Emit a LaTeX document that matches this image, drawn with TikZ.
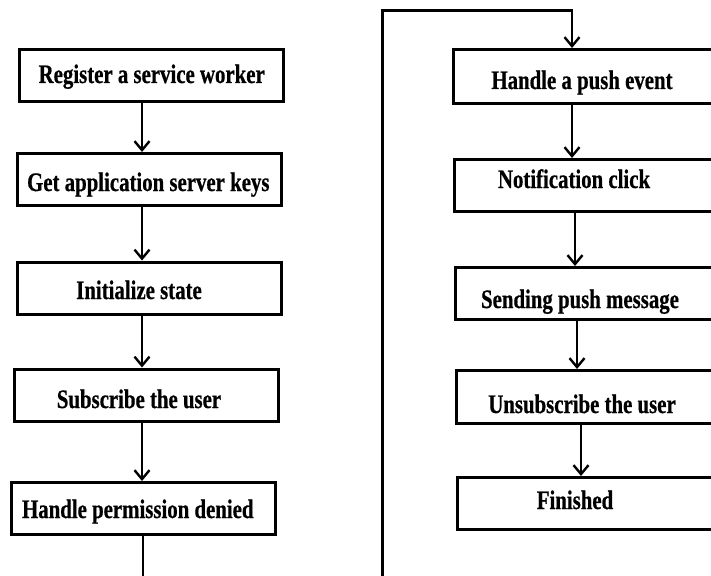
\documentclass[tikz,border=0pt]{standalone}
\usepackage{fontspec}
\setmainfont{Liberation Serif}[FakeStretch=0.78, BoldFeatures={FakeBold=0.6}]
\usetikzlibrary{arrows.meta}
\begin{document}
\begin{tikzpicture}[x=1pt,y=-1pt,
  box/.style={draw, line width=3pt, rectangle, inner sep=0pt, minimum height=52pt},
  lbox/.style={box, minimum width=264pt},
  rbox/.style={box, minimum width=290pt, anchor=west},
  lbl/.style={font=\fontsize{26.7}{30}\selectfont\bfseries, anchor=base, inner sep=0pt},
  tip/.style={-{Straight Barb[length=9pt,width=15pt,line width=2.4pt]}},
  flow/.style={line width=2pt, tip},
  wire/.style={line width=2.8pt}]
\clip (0,0) rectangle (711,575);
\fill[white] (0,0) rectangle (711,575);

% left column
\node[lbox] (b1) at (151.5,76) {};
\node[lbox] (b2) at (149,179.5) {};
\node[lbox] (b3) at (149,288) {};
\node[lbox] (b4) at (146.5,395) {};
\node[lbox] (b5) at (143.5,508.5) {};

\node[lbl] (t1) at (151.7,83) {Register a service worker};
\node[lbl] (t2) at (148.3,191) {Get application server keys};
\node[lbl] (t3) at (139,299) {Initialize state};
\node[lbl] (t4) at (139,408) {Subscribe the user};
\node[lbl] (t5) at (137.8,518) {Handle permission denied};

\coordinate (lx) at (142,0);
\coordinate (lend) at (143,577);
\draw[flow] (lx |- b1.south) -- (lx |- b2.north);
\draw[flow] (lx |- b2.south) -- (lx |- b3.north);
\draw[flow] (lx |- b3.south) -- (lx |- b4.north);
\draw[flow] (lx |- b4.south) -- (lx |- b5.north);
\draw[line width=2pt] (lend |- b5.south) -- (lend);

% right column
\node[rbox, minimum height=54pt] (r1) at (451.5,76.5) {};
\node[rbox] (r2) at (452.5,185.5) {};
\node[rbox] (r3) at (453.5,293.5) {};
\node[rbox, minimum height=53pt] (r4) at (454.5,397) {};
\node[rbox] (r5) at (455.5,503.5) {};

\node[lbl] (s1) at (582,89) {Handle a push event};
\node[lbl] (s2) at (574,188) {Notification click};
\node[lbl] (s3) at (580,308) {Sending push message};
\node[lbl] (s4) at (582,413) {Unsubscribe the user};
\node[lbl] (s5) at (575,509) {Finished};

\coordinate (x1) at (572,0);
\coordinate (x2) at (575,0);
\coordinate (x3) at (577,0);
\coordinate (x4) at (581,0);
\draw[flow] (x1 |- r1.south) -- (x1 |- r2.north);
\draw[flow] (x2 |- r2.south) -- (x2 |- r3.north);
\draw[flow] (x3 |- r3.south) -- (x3 |- r4.north);
\draw[flow] (x4 |- r4.south) -- (x4 |- r5.north);

% loop back line
\coordinate (lb) at (382.5,578);
\coordinate (lt) at (382.5,10.5);
\coordinate (rt) at (572,10.5);
\draw[wire, tip] (lb) -- (lt) -- (rt) -- (rt |- r1.north);
\end{tikzpicture}
\end{document}
